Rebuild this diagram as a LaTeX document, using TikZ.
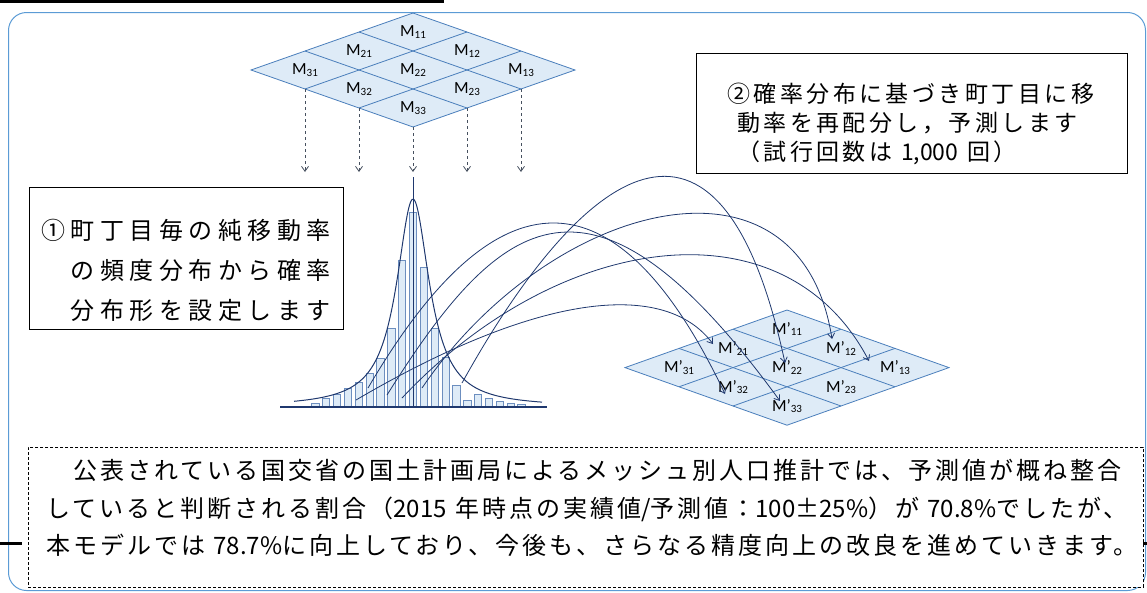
\documentclass[tikz,border=0pt]{standalone}
\usepackage{fontspec}
\newfontfamily\jpf{Noto Sans CJK JP}
\newfontfamily\jpbox[LetterSpace=23]{Noto Sans CJK JP}
\newfontfamily\jpboxb[LetterSpace=15]{Noto Sans CJK JP}
\newfontfamily\jpnote[LetterSpace=12.5]{Noto Sans CJK JP}
\newfontfamily\cellfont{Carlito}
\usepackage{tikz}
\usetikzlibrary{arrows.meta}
\definecolor{frame}{RGB}{91,155,213}
\definecolor{meshfill}{RGB}{222,235,247}
\definecolor{meshline}{RGB}{74,126,187}
\definecolor{navy}{RGB}{31,56,110}
\definecolor{barline}{RGB}{108,142,191}
\definecolor{dropgray}{RGB}{70,80,95}
\tikzstyle{mesh}=[draw=meshline, fill=meshfill, line width=0.8pt]
\tikzstyle{meshgrid}=[draw=meshline, line width=0.8pt]
\tikzstyle{cell}=[inner sep=0pt, font=\cellfont\fontsize{17}{17}\selectfont]
\tikzstyle{drop}=[->, dashed, draw=dropgray, line width=0.8pt]
\tikzstyle{bar}=[draw=barline, fill=meshfill, line width=0.8pt]
\tikzstyle{curve}=[draw=navy, line width=1pt]
\tikzstyle{move}=[->, draw=navy, line width=0.8pt]
\tikzstyle{note}=[rectangle, draw, line width=0.8pt, fill=white]
\tikzstyle{txt}=[inner sep=0pt, anchor=west, align=left]
\newcommand{\ix}[1]{\raisebox{-1.5pt}{\fontsize{11}{11}\selectfont#1}}

\begin{document}
\begin{tikzpicture}[x=1pt,y=-1pt,>={Straight Barb[length=5pt,width=7pt]}]
	\useasboundingbox (0,0) rectangle (1147,592);
	%The frame
	\draw[line width=3pt] (0,1.5) -- (444,1.5);
	\draw[frame, line width=1pt, rounded corners=18pt] (8.5,12.5) rectangle (1145.5,590.5);
	\draw[line width=3pt] (0,543) -- (22,543);
	\draw[line width=3pt] (1143,543) -- (1147,543);
	
	%The mesh on top
	\begin{scope}[shift={(413,13)}, x={(54pt,-19pt)}, y={(-54pt,-19pt)}]
		\draw[mesh] (0,0) -- (3,0) -- (3,3) -- (0,3) -- cycle;
		\foreach \k in {1,2} {
			\draw[meshgrid] (\k,0) -- (\k,3);
			\draw[meshgrid] (0,\k) -- (3,\k);
		}
		\foreach \i in {1,2,3}
			\foreach \j in {1,2,3}
				\draw (\j-0.5,\i-0.5) node[cell] (m\i\j) {M\ix{\i\j}};
		\coordinate (d1) at (1,3);
		\coordinate (d2) at (2,3);
		\coordinate (d3) at (3,3);
		\coordinate (d4) at (3,2);
		\coordinate (d5) at (3,1);
	\end{scope}
	\coordinate (lev) at (0,172);
	\foreach \d in {1,...,5}
		\draw[drop] (d\d) -- (d\d |- lev);
	
	%The distribution
	\foreach \h [count=\n from 0] in {403,398,394,388,382,373,358,328,260,212,267,328,357,385,400,394,398,401,403,404}
		\draw[bar] ({311.7+10.85*\n},407) rectangle ({319+10.85*\n},\h);
	\draw[curve] (413,177) -- (413,407);
	\draw[curve] plot[domain=294:542, samples=150, smooth] (\x,{407-208/(1+((\x-413)/20)^2)});
	\draw[curve, line width=1.5pt] (280,407) -- (547,407);
	
	%The mesh below
	\begin{scope}[shift={(787,310)}, x={(54pt,-19.2pt)}, y={(-54pt,-19.2pt)}]
		\draw[mesh] (0,0) -- (3,0) -- (3,3) -- (0,3) -- cycle;
		\foreach \k in {1,2} {
			\draw[meshgrid] (\k,0) -- (\k,3);
			\draw[meshgrid] (0,\k) -- (3,\k);
		}
		\foreach \i in {1,2,3}
			\foreach \j in {1,2,3}
				\draw (\j-0.5,\i-0.5) node[cell] (n\i\j) {M’\ix{\i\j}};
	\end{scope}
	
	%The moves
	\coordinate (s1) at (368,388);
	\coordinate (s2) at (387,395);
	\coordinate (s3) at (356,400);
	\coordinate (s4) at (462,383);
	\coordinate (s5) at (422,388);
	\coordinate (s6) at (402,398);
	\coordinate (t1) at (725,394);
	\coordinate (t2) at (780,401);
	\coordinate (t3) at (713,344);
	\coordinate (t4) at (785,363);
	\coordinate (t5) at (832,339);
	\coordinate (t6) at (869,361);
	\draw[move] (s1) .. controls (452,245) and (585,100) .. (t1);
	\draw[move] (s2) .. controls (501,213) and (592,143) .. (t2);
	\draw[move] (s3) .. controls (540,292) and (665,280) .. (t3);
	\draw[move] (s4) .. controls (580,170) and (720,60) .. (t4);
	\draw[move] (s5) .. controls (550,200) and (800,135) .. (t5);
	\draw[move] (s6) .. controls (560,230) and (785,200) .. (t6);
	
	%The notes
	\draw (29,187) node[note, anchor=north west, minimum width=314pt, minimum height=142pt] (box1) {};
	\draw (41,270) node[txt, font=\jpbox\fontsize{24}{40}\selectfont] (txt1)
		{①町丁目毎の純移動率\\　の頻度分布から確率\\　分布形を設定します};
	\draw (696,53) node[note, anchor=north west, minimum width=431pt, minimum height=120pt] (box2) {};
	\draw (727,124) node[txt, font=\jpboxb\fontsize{23}{29}\selectfont] (txt2)
		{②確率分布に基づき町丁目に移\\\hspace*{10pt}動率を再配分し，予測します\\\hspace*{10pt}（試行回数は {\jpf 1,000} 回）};
	\draw (28,447) node[note, dash pattern=on 3pt off 2pt, anchor=north west, minimum width=1115pt, minimum height=140pt] (box3) {};
	\draw (46,508) node[txt, font=\jpnote\fontsize{24}{37.5}\selectfont] (txt3)
		{　公表されている国交省の国土計画局によるメッシュ別人口推計では、予測値が概ね整合\\
		していると判断される割合（{\jpf 2015} 年時点の実績値{\jpf /}予測値：{\jpf 100}±{\jpf 25\%}）が {\jpf 70.8\%}でしたが、\\
		本モデルでは {\jpf 78.7\%}に向上しており、今後も、さらなる精度向上の改良を進めていきます。};
\end{tikzpicture}
\end{document}
